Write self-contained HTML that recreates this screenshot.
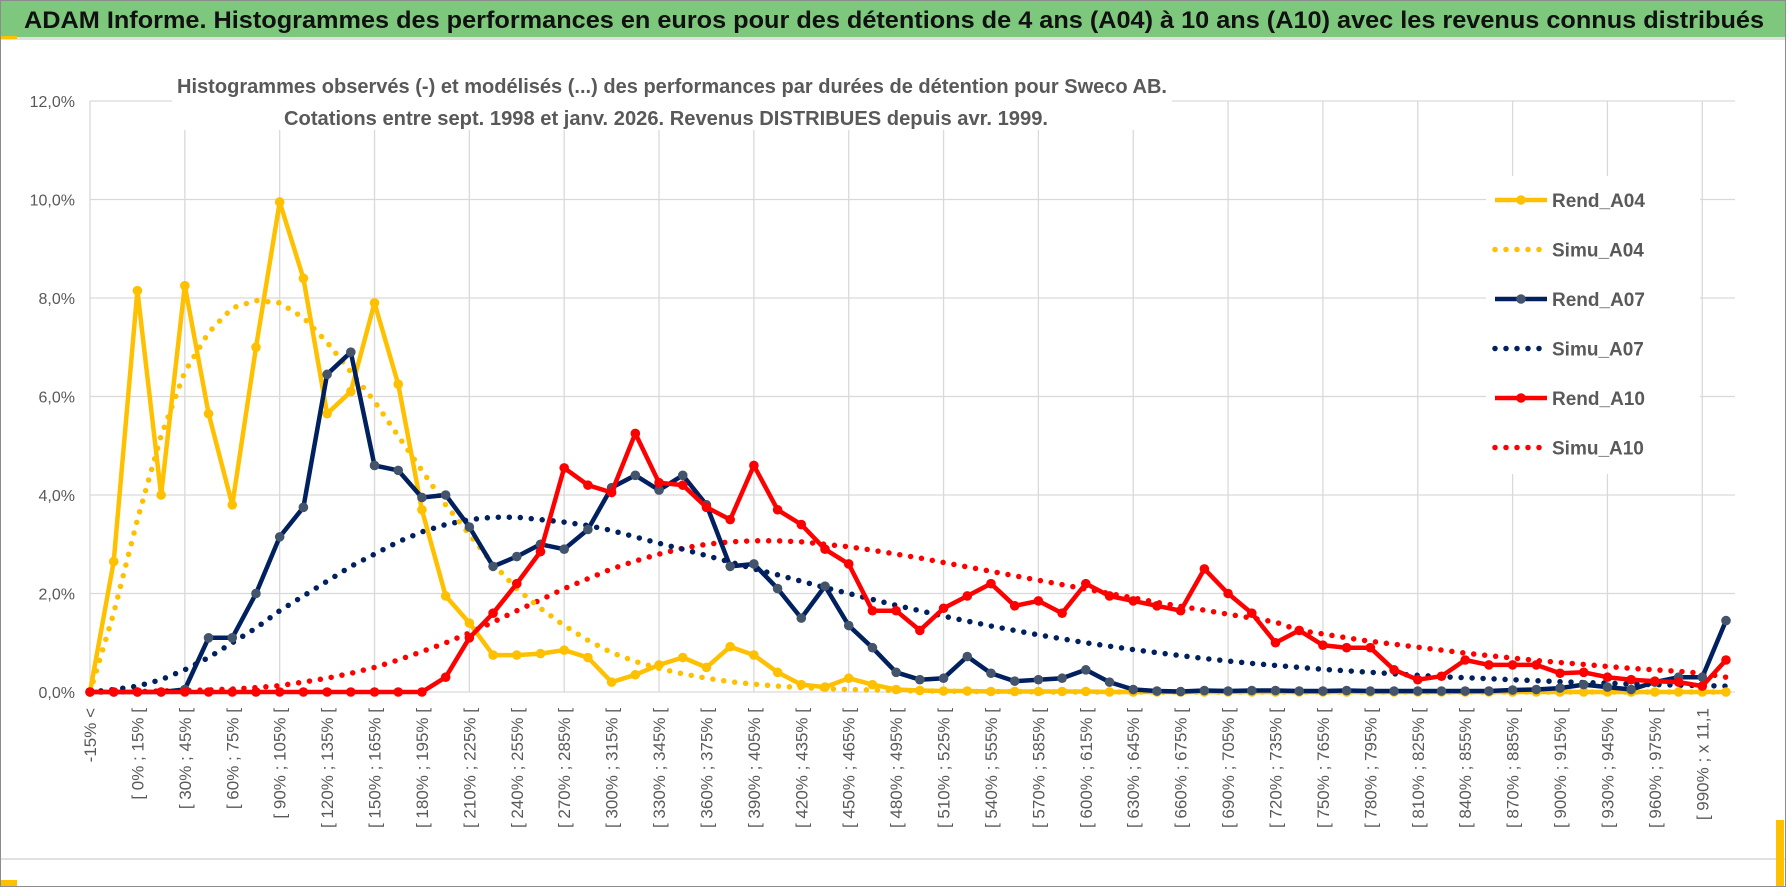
<!DOCTYPE html>
<html><head><meta charset="utf-8"><style>
html,body{margin:0;padding:0;background:#fff;}
svg{display:block;font-family:"Liberation Sans",sans-serif;}
</style></head><body>
<svg id="chart" width="1790" height="888" viewBox="0 0 1790 888" xmlns="http://www.w3.org/2000/svg">
<rect x="0.5" y="0.5" width="1785" height="886" fill="#fff" stroke="#8c8c8c"/>
<rect x="1" y="1" width="1784" height="36" fill="#7DC87D"/>
<rect x="1" y="37" width="1784" height="3" fill="#e0e0e0"/>
<rect x="1" y="36" width="16" height="3" fill="#FFC000"/>
<text x="24" y="28" font-size="24" font-weight="bold" fill="#111" textLength="1740" lengthAdjust="spacingAndGlyphs">ADAM Informe. Histogrammes des performances en euros pour des détentions de 4 ans (A04) à 10 ans (A10) avec les revenus connus distribués</text>
<rect x="1" y="858" width="1784" height="2" fill="#e0e0e0"/>
<rect x="1" y="880" width="16" height="6" fill="#FFC000"/>
<rect x="1776" y="820" width="8" height="66" fill="#FFC000"/>
<g id="grid"></g>
<g id="ylabels"></g>
<g id="xlabels"></g>
<rect x="172" y="70" width="1000" height="60" fill="#fff"/>
<text x="672" y="93" font-size="20" font-weight="bold" fill="#595959" text-anchor="middle" textLength="990" lengthAdjust="spacingAndGlyphs">Histogrammes observés (-) et modélisés (...) des performances par durées de détention pour Sweco AB.</text>
<text x="666" y="125" font-size="20" font-weight="bold" fill="#595959" text-anchor="middle" textLength="764" lengthAdjust="spacingAndGlyphs">Cotations entre sept. 1998 et janv. 2026. Revenus DISTRIBUES depuis avr. 1999.</text>
<g id="series"></g>
<rect x="1486" y="176" width="214" height="298" fill="#fff"/>
<g id="legend"></g>
</svg>
<script>
const categories = ["-15% <","","[ 0% ; 15% [","","[ 30% ; 45% [","","[ 60% ; 75% [","","[ 90% ; 105% [","","[ 120% ; 135% [","","[ 150% ; 165% [","","[ 180% ; 195% [","","[ 210% ; 225% [","","[ 240% ; 255% [","","[ 270% ; 285% [","","[ 300% ; 315% [","","[ 330% ; 345% [","","[ 360% ; 375% [","","[ 390% ; 405% [","","[ 420% ; 435% [","","[ 450% ; 465% [","","[ 480% ; 495% [","","[ 510% ; 525% [","","[ 540% ; 555% [","","[ 570% ; 585% [","","[ 600% ; 615% [","","[ 630% ; 645% [","","[ 660% ; 675% [","","[ 690% ; 705% [","","[ 720% ; 735% [","","[ 750% ; 765% [","","[ 780% ; 795% [","","[ 810% ; 825% [","","[ 840% ; 855% [","","[ 870% ; 885% [","","[ 900% ; 915% [","","[ 930% ; 945% [","","[ 960% ; 975% [","","[ 990% ; x 11,1",""];
const yTicks = [0,2,4,6,8,10,12];
const yTickLabels = ["0,0%","2,0%","4,0%","6,0%","8,0%","10,0%","12,0%"];
const rendA04 = [0,2.65,8.15,4.0,8.25,5.65,3.8,7.0,9.95,8.4,5.65,6.1,7.9,6.25,3.7,1.95,1.4,0.75,0.75,0.78,0.85,0.7,0.2,0.35,0.55,0.7,0.5,0.92,0.75,0.4,0.15,0.1,0.28,0.15,0.05,0.03,0.02,0.02,0.01,0.01,0.01,0.01,0.01,0,0,0,0,0,0,0,0,0,0,0,0,0,0,0,0,0,0,0,0,0,0,0,0,0,0,0];
const simuA04 = [0,1.6,3.5,5.2,6.5,7.3,7.8,7.95,7.9,7.6,7.1,6.5,5.9,5.2,4.5,3.8,3.2,2.6,2.1,1.7,1.35,1.05,0.8,0.62,0.48,0.37,0.28,0.21,0.16,0.12,0.09,0.07,0.05,0.04,0.03,0.02,0.02,0.01,0.01,0.01,0,0,0,0,0,0,0,0,0,0,0,0,0,0,0,0,0,0,0,0,0,0,0,0,0,0,0,0,0,0];
const rendA07 = [0,0,0,0,0.05,1.1,1.1,2.0,3.15,3.75,6.45,6.9,4.6,4.5,3.95,4.0,3.35,2.55,2.75,3.0,2.9,3.3,4.15,4.4,4.1,4.4,3.8,2.55,2.6,2.1,1.5,2.15,1.35,0.9,0.4,0.25,0.28,0.72,0.38,0.22,0.25,0.28,0.45,0.2,0.05,0.02,0.01,0.03,0.02,0.03,0.03,0.02,0.02,0.03,0.02,0.02,0.02,0.02,0.02,0.02,0.04,0.05,0.08,0.15,0.1,0.05,0.2,0.3,0.3,1.45];
const simuA07 = [0,0.05,0.12,0.25,0.45,0.7,1.0,1.3,1.65,1.95,2.25,2.55,2.8,3.05,3.25,3.4,3.5,3.55,3.55,3.5,3.45,3.38,3.28,3.15,3.02,2.9,2.77,2.64,2.5,2.38,2.25,2.12,2.0,1.88,1.76,1.65,1.54,1.44,1.34,1.25,1.16,1.08,1.0,0.93,0.86,0.8,0.74,0.68,0.63,0.58,0.54,0.5,0.46,0.43,0.4,0.37,0.34,0.31,0.29,0.27,0.25,0.23,0.21,0.19,0.18,0.16,0.15,0.14,0.13,0.12];
const rendA10 = [0,0,0,0,0,0,0,0,0,0,0,0,0,0,0,0.3,1.1,1.6,2.2,2.85,4.55,4.2,4.05,5.25,4.25,4.2,3.75,3.5,4.6,3.7,3.4,2.9,2.6,1.65,1.65,1.25,1.7,1.95,2.2,1.75,1.85,1.6,2.2,1.95,1.85,1.75,1.65,2.5,2.0,1.6,1.0,1.25,0.95,0.9,0.9,0.45,0.25,0.32,0.65,0.55,0.55,0.55,0.38,0.4,0.3,0.25,0.22,0.2,0.12,0.65];
const simuA10 = [0,0,0.01,0.02,0.03,0.04,0.06,0.09,0.13,0.2,0.28,0.38,0.5,0.65,0.82,1.0,1.2,1.42,1.65,1.87,2.1,2.3,2.5,2.66,2.8,2.92,3.0,3.05,3.07,3.07,3.05,3.0,2.95,2.88,2.8,2.72,2.63,2.54,2.45,2.36,2.27,2.18,2.09,2.0,1.91,1.82,1.74,1.66,1.58,1.5,1.42,1.25,1.18,1.1,1.03,0.97,0.91,0.85,0.79,0.74,0.69,0.64,0.6,0.56,0.52,0.48,0.45,0.42,0.38,0.3];

const NS = "http://www.w3.org/2000/svg";
const X0 = 90, DX = 23.71, Y0 = 692, PX_PER_PCT = 49.25;
function xScale(i){ return X0 + i*DX; }
function yScale(v){ return Y0 - v*PX_PER_PCT; }
function mk(tag, attrs, parent){ const e=document.createElementNS(NS,tag); for(const k in attrs) e.setAttribute(k,attrs[k]); parent.appendChild(e); return e; }

const grid = document.getElementById('grid');
yTicks.forEach(function(t){
  const l = mk('line',{x1:X0,x2:1735,y1:yScale(t),y2:yScale(t),stroke:'#d9d9d9','stroke-width':1.3},grid);
  
  
});
for(let i=0;i<categories.length;i+=4){
  const l = mk('line',{x1:xScale(i),x2:xScale(i),y1:yScale(12),y2:Y0,stroke:'#d9d9d9','stroke-width':1.3},grid);
  
  
}
const yl = document.getElementById('ylabels');
yTicks.forEach(function(t,k){
  const e = mk('text',{x:75,y:yScale(t)+6,'font-size':16,fill:'#595959','text-anchor':'end'},yl);
  e.textContent = yTickLabels[k];
  
  
});
const xl = document.getElementById('xlabels');
categories.forEach(function(c,i){
  if(!c) return;
  const x = xScale(i)+6, y = 708;
  const e = mk('text',{x:x,y:y,'font-size':17,fill:'#595959','text-anchor':'end',transform:'rotate(-90 '+x+' '+y+')'},xl);
  e.textContent = c;
  
  
});

const seriesG = document.getElementById('series');
function drawLine(vals,color,name,marker){
  const pts = vals.map(function(v,i){return xScale(i).toFixed(1)+','+yScale(v).toFixed(1);}).join(' ');
  const p = mk('polyline',{points:pts,fill:'none',stroke:color,'stroke-width':4.5,'stroke-linejoin':'round'},seriesG);
  
  
  vals.forEach(function(v,i){
    const c = mk('circle',{cx:xScale(i),cy:yScale(v),r:4.8,fill:marker},seriesG);
    
    
  });
}
function drawDots(vals,color,name){
  const pts = vals.map(function(v,i){return xScale(i).toFixed(1)+','+yScale(v).toFixed(1);}).join(' ');
  const p = mk('polyline',{points:pts,fill:'none',stroke:color,'stroke-width':5.5,'stroke-linecap':'round','stroke-dasharray':'0 11'},seriesG);
  
  
}
drawDots(simuA10,'#FF0000','simu-a10');
drawDots(simuA07,'#002060','simu-a07');
drawDots(simuA04,'#FFC000','simu-a04');
drawLine(rendA04,'#FFC000','rend-a04','#FFC000');
drawLine(rendA07,'#002060','rend-a07','#44546A');
drawLine(rendA10,'#FF0000','rend-a10','#FF0000');

const leg = document.getElementById('legend');
const legendNames = ["Rend_A04","Simu_A04","Rend_A07","Simu_A07","Rend_A10","Simu_A10"];
const legendColors = ["#FFC000","#FFC000","#002060","#002060","#FF0000","#FF0000"];
legendNames.forEach(function(n,k){
  const y = 200 + k*49.5;
  const g = mk('g',{},leg);
  
  
  if(n.indexOf('Rend')===0){
    mk('line',{x1:1495,x2:1547,y1:y,y2:y,stroke:legendColors[k],'stroke-width':4.5},g);
    mk('circle',{cx:1521,cy:y,r:4.8,fill:k===2?'#44546A':legendColors[k]},g);
  } else {
    mk('line',{x1:1495,x2:1540,y1:y,y2:y,stroke:legendColors[k],'stroke-width':5.5,'stroke-linecap':'round','stroke-dasharray':'0 11'},g);
  }
  const t = mk('text',{x:1552,y:y+7,'font-size':19,'font-weight':'bold',fill:'#595959'},g);
  t.textContent = n;
});
</script>
</body></html>
